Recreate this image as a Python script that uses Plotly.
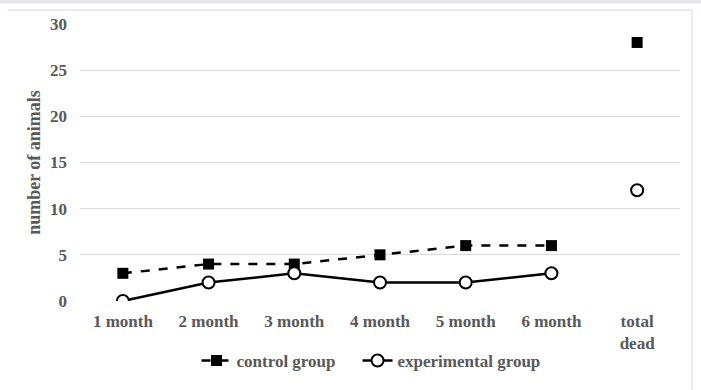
import plotly.graph_objects as go

categories = ["1 month", "2 month", "3 month", "4 month", "5 month", "6 month", "total<br>dead"]
control = [3, 4, 4, 5, 6, 6]
experimental = [0, 2, 3, 2, 2, 3]
control_total = [28]
experimental_total = [12]
y_ticks = [0, 5, 10, 15, 20, 25, 30]

W, H = 701, 390
L, R, T, B = 80, 680, 24, 302

def px(x):
    return (x - L) / (R - L)

def py(y):
    return (B - y) / (B - T)

fig = go.Figure()
fig.add_trace(go.Scatter(
    x=categories[:6], y=control, name="<b>control group</b>&nbsp;&nbsp;&nbsp;&nbsp;", mode="lines+markers",
    line=dict(color="black", width=2.5, dash="dash"),
    marker=dict(symbol="square", size=11, color="black"),
))
fig.add_trace(go.Scatter(
    x=categories[:6], y=experimental, name="<b>experimental group</b>", mode="lines+markers",
    line=dict(color="black", width=2.5),
    marker=dict(symbol="circle", size=12, color="white", line=dict(color="black", width=2)),
))
fig.add_trace(go.Scatter(
    x=categories[6:], y=control_total, mode="markers", showlegend=False,
    marker=dict(symbol="square", size=11, color="black"),
))
fig.add_trace(go.Scatter(
    x=categories[6:], y=experimental_total, mode="markers", showlegend=False,
    marker=dict(symbol="circle", size=12, color="white", line=dict(color="black", width=2)),
))

font_tick = dict(family="Liberation Serif", size=17, color="#595959")

fig.update_layout(
    width=W, height=H,
    margin=dict(l=L, r=W - R, t=T, b=H - B),
    paper_bgcolor="white", plot_bgcolor="white",
    font=dict(family="Liberation Serif", size=17, color="#595959"),
    xaxis=dict(
        categoryorder="array", categoryarray=categories,
        tickvals=categories, ticktext=["<b>" + c + "</b>" for c in categories],
        range=[-0.5, 6.5], showgrid=False, zeroline=False, showline=False,
        ticks="", tickfont=font_tick, ticklabelstandoff=8,
    ),
    yaxis=dict(
        range=[0, 30], tickvals=y_ticks, ticktext=["<b>" + str(v) + "</b>" for v in y_ticks],
        showgrid=True, gridcolor="#d9d9d9", gridwidth=1,
        zeroline=False, showline=False, ticks="", tickfont=font_tick, ticklabelstandoff=12,
        title=dict(text="<b>number of animals</b>",
                   font=dict(family="Liberation Serif", size=18, color="#595959"), standoff=4),
    ),
    legend=dict(
        orientation="h", x=0.485, xanchor="center", y=py(361), yanchor="middle",
        font=dict(family="Liberation Serif", size=17, color="#595959"),
        itemwidth=30, tracegroupgap=0,
    ),
    shapes=[
        dict(type="rect", xref="paper", yref="paper", x0=px(-5), x1=px(W + 5), y0=py(3.5), y1=py(-5),
             fillcolor="#e4e5e8", line=dict(width=0), layer="above"),
        dict(type="line", xref="paper", yref="paper", x0=px(8), x1=px(692), y0=py(10), y1=py(10),
             line=dict(color="#d9d9d9", width=1)),
        dict(type="line", xref="paper", yref="paper", x0=px(692), x1=px(692), y0=py(10), y1=py(H + 5),
             line=dict(color="#d9d9d9", width=1)),
    ],
)

fig.write_html("out.html", config={"displayModeBar": False},
               post_script="document.body.style.margin='0';")
